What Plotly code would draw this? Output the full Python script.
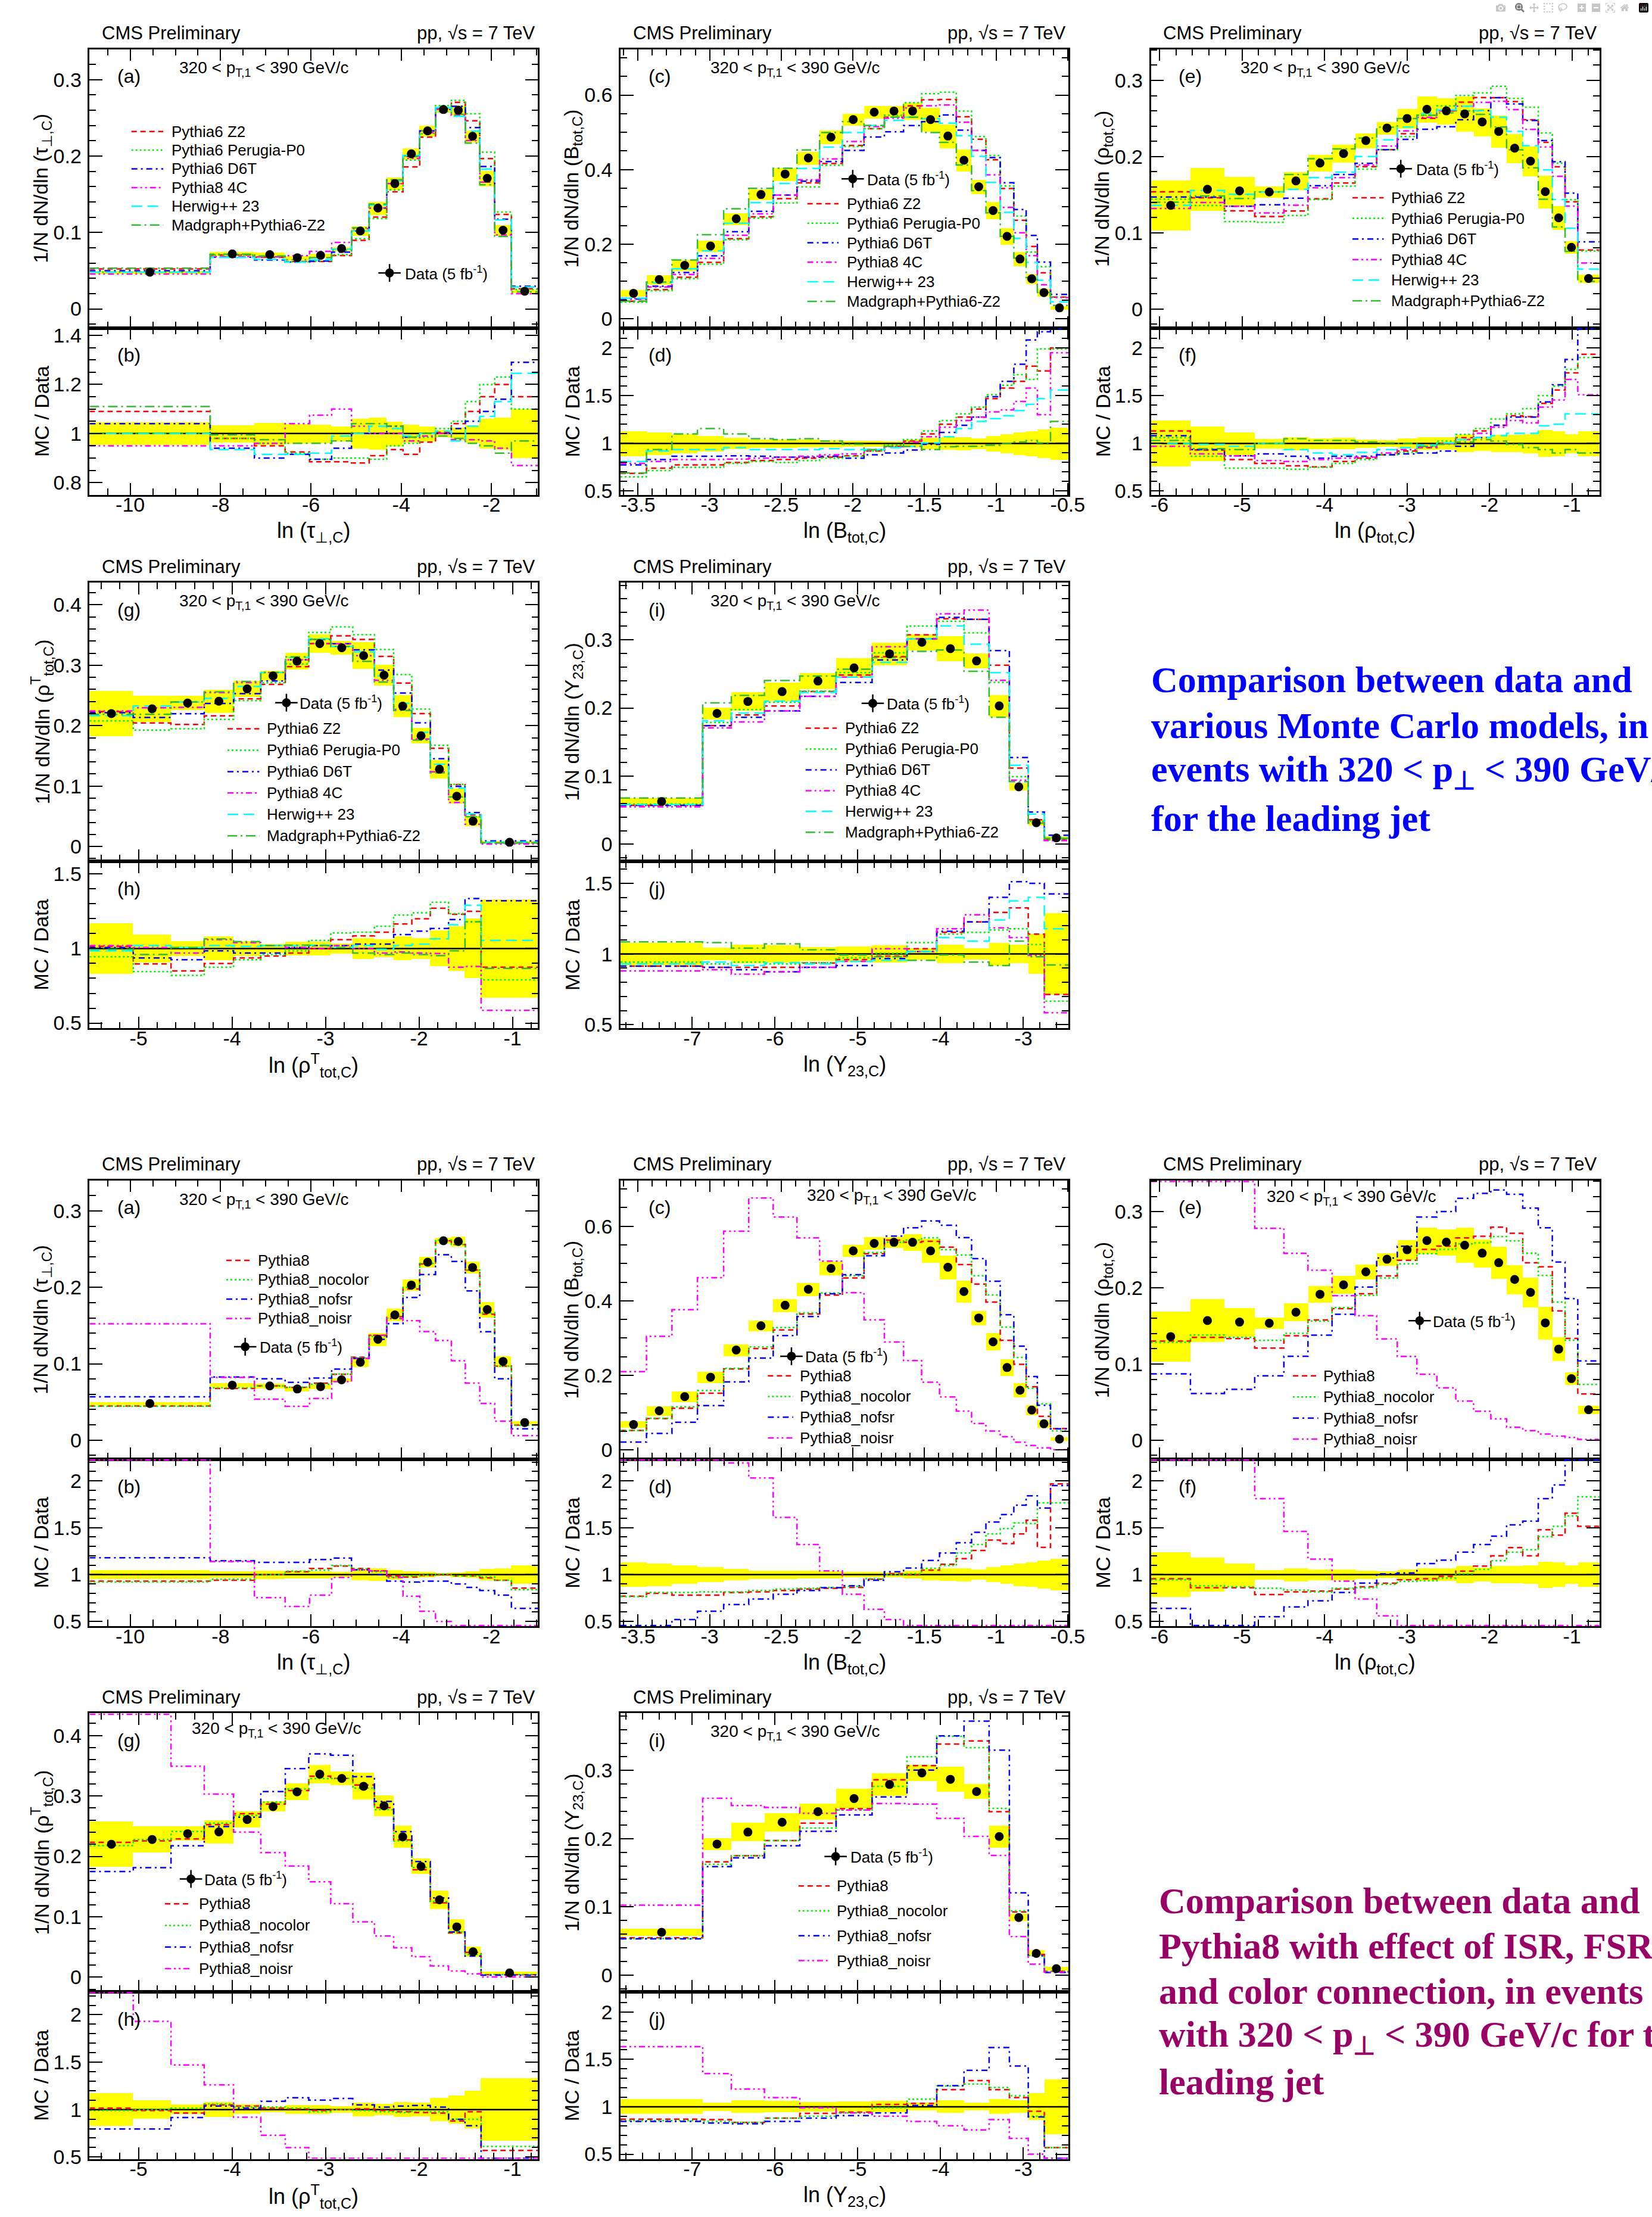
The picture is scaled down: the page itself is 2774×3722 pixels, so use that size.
import plotly.graph_objects as go

W, H = 2774, 3722
FONT = "Liberation Sans, Arial, Helvetica, sans-serif"
SERIF = "Liberation Serif, Times New Roman, serif"
YEL = "#ffff00"

# ---------------- data: tau_perp,C  (a/b) ----------------
A_edges = [-10.9, -8.23, -7.25, -6.57, -6.03, -5.54, -5.10, -4.71, -4.32, -3.96, -3.59, -3.24, -2.89, -2.58, -2.26, -1.93, -1.56, -0.97]
A_data = [0.048, 0.072, 0.071, 0.067, 0.070, 0.079, 0.102, 0.132, 0.164, 0.203, 0.233, 0.261, 0.260, 0.226, 0.171, 0.103, 0.023]
A_err = [0.046, 0.035, 0.045, 0.04, 0.038, 0.03, 0.06, 0.065, 0.05, 0.037, 0.03, 0.015, 0.025, 0.035, 0.06, 0.065, 0.10]
A_z2 = [1.09, 0.98, 0.95, 0.925, 0.885, 0.885, 0.88, 0.91, 0.935, 0.915, 0.965, 1.005, 1.04, 1.09, 1.15, 1.20, 1.15]
A_p0 = [1.0, 0.98, 0.96, 0.92, 0.895, 0.9, 0.9, 0.895, 0.95, 0.96, 0.985, 1.02, 1.05, 1.13, 1.2, 1.23, 1.10]
A_d6t = [1.04, 0.94, 0.90, 0.915, 0.895, 0.94, 1.0, 1.0, 1.03, 0.985, 1.0, 1.0, 1.02, 1.05, 1.09, 1.14, 1.29]
A_4c = [0.95, 0.95, 0.96, 1.04, 1.075, 1.10, 1.03, 1.0, 1.0, 0.97, 0.99, 1.0, 0.975, 0.975, 0.97, 0.94, 0.87]
A_hw = [1.0, 0.935, 0.915, 0.915, 0.92, 0.99, 1.0, 1.03, 1.02, 0.99, 1.0, 1.01, 0.97, 1.03, 1.07, 1.13, 1.245]
A_mg = [1.11, 0.995, 0.975, 0.96, 0.96, 0.97, 1.04, 1.04, 1.03, 0.985, 1.0, 0.99, 0.98, 0.96, 0.95, 0.92, 0.97]
LA_p8 = [0.93, 0.94, 1.0, 1.03, 1.065, 1.09, 1.065, 1.04, 0.985, 0.975, 0.99, 1.0, 0.985, 0.985, 0.965, 0.94, 0.855]
LA_nocol = [0.92, 0.95, 1.0, 1.037, 1.048, 1.096, 1.06, 1.03, 0.974, 0.985, 0.993, 1.004, 0.985, 0.985, 0.974, 0.94, 0.84]
LA_nofsr = [1.18, 1.147, 1.13, 1.13, 1.16, 1.176, 1.05, 1.0, 0.93, 0.92, 0.93, 0.93, 0.9, 0.864, 0.83, 0.78, 0.64]
LA_noisr = [3.17, 1.14, 0.754, 0.66, 0.78, 0.97, 1.05, 1.04, 0.97, 0.77, 0.61, 0.50, 0.40, 0.33, 0.28, 0.24, 0.25]
A_xt = [-10, -8, -6, -4, -2]
A_xtt = ["-10", "-8", "-6", "-4", "-2"]

# ---------------- data: B_tot,C  (c/d) ----------------
C_edges = [-3.622, -3.441, -3.263, -3.085, -2.902, -2.727, -2.556, -2.390, -2.232, -2.073, -1.922, -1.780, -1.646, -1.520, -1.395, -1.278, -1.171, -1.071, -0.971, -0.876, -0.790, -0.712, -0.620, -0.495]
C_data = [0.068, 0.105, 0.143, 0.195, 0.268, 0.333, 0.388, 0.431, 0.487, 0.534, 0.554, 0.557, 0.557, 0.534, 0.490, 0.425, 0.354, 0.290, 0.221, 0.160, 0.107, 0.070, 0.029]
C_err = [0.13, 0.12, 0.10, 0.08, 0.06, 0.045, 0.045, 0.04, 0.038, 0.03, 0.03, 0.025, 0.04, 0.06, 0.065, 0.07, 0.055, 0.08, 0.1, 0.12, 0.13, 0.15, 0.17]
C_z2 = [0.686, 0.74, 0.775, 0.775, 0.80, 0.82, 0.83, 0.845, 0.855, 0.87, 0.92, 0.97, 1.025, 1.10, 1.20, 1.275, 1.36, 1.47, 1.58, 1.65, 1.81, 1.76, 2.0]
C_p0 = [0.65, 0.715, 0.75, 0.75, 0.79, 0.81, 0.80, 0.82, 0.845, 0.865, 0.92, 0.98, 1.04, 1.13, 1.24, 1.31, 1.38, 1.51, 1.61, 1.72, 1.67, 1.99, 1.99]
C_d6t = [0.775, 0.83, 0.865, 0.865, 0.87, 0.865, 0.855, 0.855, 0.865, 0.845, 0.88, 0.90, 0.93, 0.99, 1.115, 1.19, 1.275, 1.49, 1.65, 1.83, 2.085, 2.17, 2.25]
C_4c = [0.79, 0.81, 0.83, 0.83, 0.835, 0.845, 0.855, 0.865, 0.88, 0.89, 0.93, 0.965, 1.015, 1.07, 1.17, 1.24, 1.275, 1.33, 1.35, 1.44, 1.58, 1.30, 1.95]
C_hw = [0.81, 0.92, 0.935, 0.935, 0.955, 0.935, 0.935, 0.935, 0.945, 0.935, 0.935, 0.955, 0.97, 1.005, 1.07, 1.155, 1.23, 1.26, 1.29, 1.345, 1.41, 1.47, 1.56]
C_mg = [0.69, 0.935, 1.10, 1.155, 1.10, 1.05, 1.04, 1.05, 1.025, 0.99, 0.935, 0.97, 0.97, 0.935, 0.965, 0.97, 0.97, 0.98, 1.0, 1.015, 1.03, 1.005, 1.23]
LC_p8 = [0.77, 0.80, 0.78, 0.78, 0.81, 0.816, 0.83, 0.846, 0.853, 0.864, 0.95, 1.01, 1.0, 1.048, 1.11, 1.17, 1.257, 1.368, 1.33, 1.434, 1.58, 1.29, 1.967]
LC_nocol = [0.765, 0.81, 0.81, 0.816, 0.816, 0.83, 0.846, 0.853, 0.864, 0.875, 0.956, 1.0, 1.01, 1.066, 1.096, 1.23, 1.32, 1.434, 1.49, 1.55, 1.544, 1.765, 1.765]
LC_nofsr = [0.31, 0.42, 0.52, 0.61, 0.68, 0.74, 0.79, 0.83, 0.86, 0.88, 0.94, 1.03, 1.07, 1.15, 1.23, 1.34, 1.45, 1.56, 1.64, 1.74, 1.84, 1.71, 1.95]
LC_noisr = [3.09, 2.9, 2.63, 2.37, 2.19, 2.03, 1.61, 1.32, 1.04, 0.79, 0.63, 0.52, 0.43, 0.34, 0.29, 0.245, 0.2, 0.175, 0.16, 0.13, 0.11, 0.08, 0.02]
C_xt = [-3.5, -3, -2.5, -2, -1.5, -1, -0.5]
C_xtt = ["-3.5", "-3", "-2.5", "-2", "-1.5", "-1", "-0.5"]

# ---------------- data: rho_tot,C  (e/f) ----------------
E_edges = [-6.104, -5.625, -5.2125, -4.846, -4.492, -4.20, -3.908, -3.629, -3.367, -3.117, -2.879, -2.6375, -2.408, -2.192, -1.983, -1.792, -1.596, -1.408, -1.2375, -1.083, -0.929, -0.667]
E_data = [0.136, 0.157, 0.155, 0.1536, 0.168, 0.1915, 0.204, 0.221, 0.2375, 0.25, 0.262, 0.26, 0.256, 0.2455, 0.233, 0.211, 0.194, 0.154, 0.1196, 0.0808, 0.040]
E_err = [0.24, 0.18, 0.12, 0.05, 0.07, 0.057, 0.058, 0.045, 0.035, 0.052, 0.066, 0.066, 0.09, 0.075, 0.09, 0.09, 0.10, 0.14, 0.13, 0.10, 0.13]
E_z2 = [1.13, 0.93, 0.83, 0.79, 0.765, 0.755, 0.81, 0.845, 0.88, 0.92, 0.955, 1.0, 1.06, 1.13, 1.19, 1.29, 1.28, 1.42, 1.56, 1.74, 1.935]
E_p0 = [1.06, 0.865, 0.74, 0.74, 0.73, 0.75, 0.79, 0.83, 0.88, 0.905, 0.97, 1.025, 1.095, 1.155, 1.255, 1.31, 1.365, 1.50, 1.60, 1.775, 1.90]
E_d6t = [1.08, 0.935, 0.87, 0.89, 0.865, 0.845, 0.865, 0.865, 0.88, 0.89, 0.90, 0.92, 0.97, 1.06, 1.19, 1.275, 1.275, 1.435, 1.615, 1.88, 2.2]
E_4c = [0.97, 0.89, 0.87, 0.82, 0.81, 0.83, 0.845, 0.855, 0.90, 0.935, 0.96, 1.0, 1.04, 1.105, 1.17, 1.24, 1.215, 1.38, 1.455, 1.67, 1.51]
E_hw = [1.0, 0.99, 0.97, 1.0, 0.935, 0.90, 0.88, 0.905, 0.935, 0.955, 0.98, 1.005, 1.04, 1.06, 1.08, 1.105, 1.105, 1.185, 1.20, 1.31, 1.31]
E_mg = [1.03, 0.945, 0.935, 1.0, 1.05, 1.03, 1.03, 1.015, 1.005, 1.0, 0.97, 0.99, 1.015, 1.04, 1.025, 0.99, 0.955, 0.935, 0.90, 0.935, 0.90]
LE_p8 = [0.956, 0.86, 0.86, 0.787, 0.816, 0.824, 0.846, 0.87, 0.908, 0.945, 0.956, 0.98, 1.037, 1.09, 1.2, 1.287, 1.2, 1.478, 1.42, 1.654, 1.515]
LE_nocol = [0.945, 0.88, 0.87, 0.853, 0.835, 0.816, 0.853, 0.86, 0.897, 0.926, 0.934, 0.963, 1.007, 1.055, 1.147, 1.24, 1.265, 1.404, 1.515, 1.625, 1.83]
LE_nofsr = [0.64, 0.39, 0.43, 0.55, 0.655, 0.72, 0.81, 0.91, 1.007, 1.018, 1.118, 1.154, 1.24, 1.32, 1.41, 1.53, 1.57, 1.81, 1.956, 2.3, 2.6]
LE_noisr = [3.3, 2.7, 2.4, 1.81, 1.46, 1.165, 0.93, 0.74, 0.56, 0.44, 0.33, 0.264, 0.2, 0.155, 0.12, 0.08, 0.065, 0.053, 0.045, 0.044, 0.025]
E_xt = [-6, -5, -4, -3, -2, -1]
E_xtt = ["-6", "-5", "-4", "-3", "-2", "-1"]

# ---------------- data: rho^T_tot,C  (g/h) ----------------
G_edges = [-5.523, -5.056, -4.652, -4.297, -3.983, -3.692, -3.430, -3.179, -2.944, -2.708, -2.477, -2.271, -2.077, -1.879, -1.684, -1.508, -1.336, -0.727]
G_data = [0.220, 0.228, 0.2376, 0.2405, 0.261, 0.2824, 0.3068, 0.336, 0.329, 0.316, 0.2836, 0.2323, 0.1834, 0.128, 0.0833, 0.042, 0.007]
G_err = [0.17, 0.095, 0.05, 0.08, 0.05, 0.03, 0.045, 0.045, 0.035, 0.07, 0.06, 0.08, 0.07, 0.12, 0.15, 0.2, 0.33]
G_z2 = [1.015, 0.897, 0.85, 0.90, 0.937, 0.95, 0.97, 1.0, 1.06, 1.085, 1.11, 1.165, 1.20, 1.27, 1.23, 1.25, 0.875]
G_p0 = [0.945, 0.845, 0.82, 0.875, 0.925, 0.96, 0.985, 1.055, 1.105, 1.11, 1.15, 1.225, 1.24, 1.31, 1.235, 1.18, 0.79]
G_d6t = [1.007, 0.937, 0.925, 0.985, 0.97, 0.97, 1.007, 1.02, 1.02, 1.03, 1.03, 1.094, 1.117, 1.135, 1.195, 1.335, 1.32]
G_4c = [1.02, 1.007, 0.97, 1.06, 1.04, 1.02, 1.007, 1.0, 1.02, 1.0, 0.97, 0.977, 0.97, 0.967, 0.875, 0.88, 0.585]
G_hw = [0.985, 1.02, 1.007, 1.02, 1.015, 1.02, 1.02, 1.023, 1.007, 1.02, 0.995, 1.02, 1.03, 1.065, 1.16, 1.29, 1.055]
G_mg = [0.995, 0.96, 1.007, 1.065, 1.047, 1.02, 1.023, 1.02, 1.007, 0.97, 0.96, 0.97, 0.96, 0.953, 0.985, 1.18, 0.867]
LG_p8 = [1.015, 0.99, 0.963, 1.05, 1.037, 1.015, 1.007, 0.99, 1.0, 1.007, 0.99, 0.978, 0.97, 0.963, 0.88, 0.978, 0.57]
LG_nocol = [0.99, 1.0, 1.015, 1.06, 1.026, 1.026, 1.015, 0.978, 1.0, 0.99, 0.978, 0.97, 0.99, 0.978, 0.897, 0.897, 0.612]
LG_nofsr = [0.795, 0.795, 0.916, 1.037, 1.015, 1.088, 1.125, 1.1, 1.117, 1.05, 1.026, 1.037, 1.044, 1.026, 0.897, 0.83, 0.487]
LG_noisr = [2.6, 1.93, 1.47, 1.26, 0.92, 0.73, 0.6, 0.47, 0.37, 0.29, 0.24, 0.21, 0.185, 0.146, 0.122, 0.135, 0.05]
G_xt = [-5, -4, -3, -2, -1]
G_xtt = ["-5", "-4", "-3", "-2", "-1"]

# ---------------- data: Y23,C  (i/j) ----------------
I_edges = [-7.865, -6.873, -6.527, -6.127, -5.700, -5.262, -4.827, -4.405, -4.046, -3.717, -3.414, -3.169, -2.941, -2.747, -2.456]
I_data = [0.0626, 0.192, 0.2095, 0.224, 0.2395, 0.2587, 0.2794, 0.2964, 0.287, 0.269, 0.203, 0.0843, 0.0316, 0.0093]
I_err = [0.08, 0.045, 0.065, 0.06, 0.05, 0.055, 0.06, 0.04, 0.065, 0.04, 0.08, 0.065, 0.14, 0.29]
I_z2 = [0.914, 0.906, 0.906, 0.906, 0.936, 0.96, 0.985, 1.037, 1.153, 1.227, 1.294, 1.326, 1.14, 0.714]
I_p0 = [0.943, 0.93, 0.943, 0.93, 0.938, 0.973, 1.005, 1.08, 1.14, 1.153, 1.17, 1.178, 1.067, 0.667]
I_d6t = [0.914, 0.906, 0.889, 0.874, 0.906, 0.918, 0.968, 1.017, 1.16, 1.227, 1.40, 1.511, 1.499, 1.425]
I_4c = [0.88, 0.889, 0.857, 0.874, 0.906, 0.948, 1.037, 1.017, 1.178, 1.277, 1.185, 1.116, 0.99, 0.585]
I_hw = [0.93, 0.943, 0.918, 0.938, 0.93, 0.948, 0.955, 1.017, 1.116, 1.091, 1.24, 1.375, 1.40, 1.178]
I_mg = [1.086, 1.08, 1.042, 1.072, 1.03, 0.993, 0.98, 0.955, 0.993, 0.943, 0.918, 1.091, 0.98, 0.923]
LI_p8 = [0.87, 0.864, 0.835, 0.88, 0.93, 0.943, 1.025, 1.036, 1.18, 1.276, 1.18, 1.097, 0.953, 0.57]
LI_nocol = [0.853, 0.846, 0.835, 0.88, 0.9, 0.935, 0.99, 1.08, 1.22, 1.24, 1.204, 1.115, 0.9, 0.57]
LI_nofsr = [0.846, 0.828, 0.82, 0.846, 0.88, 0.907, 0.935, 1.014, 1.222, 1.384, 1.624, 1.43, 0.892, 0.4]
LI_noisr = [1.634, 1.35, 1.186, 1.097, 0.99, 0.935, 0.9, 0.846, 0.8, 0.756, 0.864, 0.667, 0.5, 0.43]
I_xt = [-7, -6, -5, -4, -3]
I_xtt = ["-7", "-6", "-5", "-4", "-3"]

UP_NAMES = ["Pythia6 Z2", "Pythia6 Perugia-P0", "Pythia6 D6T", "Pythia8 4C", "Herwig++ 23", "Madgraph+Pythia6-Z2"]
LO_NAMES = ["Pythia8", "Pythia8_nocolor", "Pythia8_nofsr", "Pythia8_noisr"]
DATA_LABEL = "Data (5 fb<sup>-1</sup>)"
CMS_LABEL = "CMS Preliminary"
ENERGY_LABEL = "pp, \u221as = 7 TeV"
PT_LABEL = "320 < p<sub>T,1</sub> < 390 GeV/c"
UP_TEXT = ["Comparison between data and", "various Monte Carlo models, in",
           "events with 320 < p<sub>\u22a5</sub> < 390 GeV/c", "for the leading jet"]
LO_TEXT = ["Comparison between data and", "Pythia8 with effect of ISR, FSR",
           "and color connection, in events", "with 320 < p<sub>\u22a5</sub> < 390 GeV/c for the",
           "leading jet"]

# ---------------- styles ----------------
UP_STY = [("#ff0000", "9px,6px"), ("#00ee00", "3px,4px"), ("#0000ff", "10px,6px,3px,6px"),
          ("#ff00ff", "10px,5px,3px,5px,3px,5px"), ("#00ffff", "18px,9px"), ("#33bb33", "16px,6px,3px,6px")]
LO_STY = UP_STY[:4]

COL_L = [151, 1052, 1952]
COL_R = [912, 1812, 2713]
ROW_T = [76, 977, 1987, 2887]
TOP_H = 471
RAT_H = 282

XT = {"a": (A_xt, A_xtt, 0.5), "c": (C_xt, C_xtt, 0.1), "e": (E_xt, E_xtt, 0.2),
      "g": (G_xt, G_xtt, 0.2), "i": (I_xt, I_xtt, 0.2)}
VAR = {
    "a": dict(edges=A_edges, data=A_data, err=A_err, yr=[-0.025, 0.34], ydt=0.1, ymn=0.02,
              xt="ln (\u03c4<sub>\u22a5,C</sub>)", yt="1/N dN/dln (\u03c4<sub>\u22a5,C</sub>)"),
    "c": dict(edges=C_edges, data=C_data, err=C_err, yr=[-0.025, 0.723], ydt=0.2, ymn=0.05,
              xt="ln (B<sub>tot,C</sub>)", yt="1/N dN/dln (B<sub>tot,C</sub>)"),
    "e": dict(edges=E_edges, data=E_data, err=E_err, yr=[-0.025, 0.341], ydt=0.1, ymn=0.02,
              xt="ln (\u03c1<sub>tot,C</sub>)", yt="1/N dN/dln (\u03c1<sub>tot,C</sub>)"),
    "g": dict(edges=G_edges, data=G_data, err=G_err, yr=[-0.0245, 0.437], ydt=0.1, ymn=0.02,
              xt="ln (\u03c1<sup>T</sup><sub>tot,C</sub>)", yt="1/N dN/dln (\u03c1<sup>T</sup><sub>tot,C</sub>)"),
    "i": dict(edges=I_edges, data=I_data, err=I_err, yr=[-0.025, 0.384], ydt=0.1, ymn=0.02,
              xt="ln (Y<sub>23,C</sub>)", yt="1/N dN/dln (Y<sub>23,C</sub>)"),
}
NEXT = {"a": "(b)", "c": "(d)", "e": "(f)", "g": "(h)", "i": "(j)"}

PANELS = [
    # upper half
    dict(v="a", row=0, col=0, mc=[A_z2, A_p0, A_d6t, A_4c, A_hw, A_mg], names=UP_NAMES, sty=UP_STY,
         rr=[0.75, 1.43], rdt=0.2, rt0=0.8, rmn=0.05,
         leg=(71, 125, 137, 139, 31.6), dat=(509, 378, 533), pt=(150, 39)),
    dict(v="c", row=0, col=1, mc=[C_z2, C_p0, C_d6t, C_4c, C_hw, C_mg], names=UP_NAMES, sty=UP_STY,
         rr=[0.46, 2.21], rdt=0.5, rt0=0.5, rmn=0.1,
         leg=(317, 370, 382, 261, 33.0), dat=(394, 219, 416), pt=(151, 39)),
    dict(v="e", row=0, col=2, mc=[E_z2, E_p0, E_d6t, E_4c, E_hw, E_mg], names=UP_NAMES, sty=UP_STY,
         rr=[0.46, 2.21], rdt=0.5, rt0=0.5, rmn=0.1,
         leg=(342, 395, 406, 251, 34.8), dat=(424, 202, 448), pt=(150, 39)),
    dict(v="g", row=1, col=0, mc=[G_z2, G_p0, G_d6t, G_4c, G_hw, G_mg], names=UP_NAMES, sty=UP_STY,
         rr=[0.465, 1.585], rdt=0.5, rt0=0.5, rmn=0.1,
         leg=(234, 288, 299, 247, 36.2), dat=(334, 203, 354), pt=(150, 39)),
    dict(v="i", row=1, col=1, mc=[I_z2, I_p0, I_d6t, I_4c, I_hw, I_mg], names=UP_NAMES, sty=UP_STY,
         rr=[0.475, 1.655], rdt=0.5, rt0=0.5, rmn=0.1,
         leg=(314, 367, 379, 246, 35.2), dat=(428, 204, 450), pt=(151, 39)),
    # lower half
    dict(v="a", row=2, col=0, mc=[LA_p8, LA_nocol, LA_nofsr, LA_noisr], names=LO_NAMES, sty=LO_STY,
         rr=[0.45, 2.23], rdt=0.5, rt0=0.5, rmn=0.1,
         leg=(232, 276, 284, 135, 32.7), dat=(264, 281, 287), pt=(150, 40)),
    dict(v="c", row=2, col=1, mc=[LC_p8, LC_nocol, LC_nofsr, LC_noisr], names=LO_NAMES, sty=LO_STY,
         rr=[0.45, 2.23], rdt=0.5, rt0=0.5, rmn=0.1,
         leg=(250, 293, 302, 330, 35.0), dat=(290, 297, 311), pt=(314, 33)),
    dict(v="e", row=2, col=2, mc=[LE_p8, LE_nocol, LE_nofsr, LE_noisr], names=LO_NAMES, sty=LO_STY,
         rr=[0.45, 2.23], rdt=0.5, rt0=0.5, rmn=0.1,
         leg=(241, 284, 290, 330, 35.7), dat=(456, 237, 476), pt=(194, 35)),
    dict(v="g", row=3, col=0, mc=[LG_p8, LG_nocol, LG_nofsr, LG_noisr], names=LO_NAMES, sty=LO_STY,
         rr=[0.48, 2.24], rdt=0.5, rt0=0.5, rmn=0.1,
         leg=(128, 172, 184, 322, 36.5), dat=(172, 280, 193), pt=(171, 34)),
    dict(v="i", row=3, col=1, mc=[LI_p8, LI_nocol, LI_nofsr, LI_noisr], names=LO_NAMES, sty=LO_STY,
         rr=[0.45, 2.21], rdt=0.5, rt0=0.5, rmn=0.1,
         leg=(302, 355, 365, 292, 42.0), dat=(365, 242, 388), pt=(151, 39)),
]


def clip(v, lo, hi):
    m = 0.004 * (hi - lo)
    return max(lo + m, min(hi - m, v))


def X(px):
    return px / W


def Y(py):
    return 1 - py / H


def ann(x, y, text, size, xa="left", ya="middle", color="black", family=FONT, angle=0):
    return dict(x=X(x), y=Y(y), xref="paper", yref="paper", text=text, showarrow=False,
                xanchor=xa, yanchor=ya, textangle=angle,
                font=dict(family=family, size=size, color=color))


AX = dict(showline=True, linecolor="black", linewidth=2.5, mirror="allticks", ticks="inside",
          tickcolor="black", tickwidth=2, showgrid=False, zeroline=False, layer="above traces",
          tickfont=dict(family=FONT, size=34, color="black"))

fig = go.Figure()
layout = dict(width=W, height=H, margin=dict(l=0, r=0, t=0, b=0), paper_bgcolor="white",
              plot_bgcolor="white", showlegend=False, font=dict(family=FONT, color="black"),
              bargap=0, shapes=[], annotations=[])
k = 0

for p in PANELS:
    v = VAR[p["v"]]
    xt, xtt, xmn = XT[p["v"]]
    edges, data, err = v["edges"], v["data"], v["err"]
    n = len(data)
    cen = [(edges[i] + edges[i + 1]) / 2 for i in range(n)]
    wid = [edges[i + 1] - edges[i] for i in range(n)]
    L, R = COL_L[p["col"]], COL_R[p["col"]]
    T = ROW_T[p["row"]]
    D = T + TOP_H
    B = D + RAT_H
    xr = [edges[0], edges[-1]]

    # ---- top pad ----
    k += 1
    xn, yn = ("x", "y") if k == 1 else (f"x{k}", f"y{k}")
    layout["xaxis" if k == 1 else f"xaxis{k}"] = dict(
        AX, domain=[X(L), X(R)], anchor=yn, range=xr, tickmode="array", tickvals=xt, ticktext=xtt,
        showticklabels=False, ticklen=20,
        minor=dict(ticks="inside", dtick=xmn, tick0=0, ticklen=11, tickwidth=2, tickcolor="black"))
    layout["yaxis" if k == 1 else f"yaxis{k}"] = dict(
        AX, domain=[Y(D), Y(T)], anchor=xn, range=v["yr"], tick0=0, dtick=v["ydt"], ticklen=22,
        ticklabelstandoff=4,
        minor=dict(ticks="inside", dtick=v["ymn"], tick0=0, ticklen=11, tickwidth=2, tickcolor="black"))
    fig.add_trace(go.Bar(x=cen, y=[2 * e * d for d, e in zip(data, err)],
                         base=[d * (1 - e) for d, e in zip(data, err)], width=wid,
                         marker=dict(color=YEL, line=dict(width=0)), xaxis=xn, yaxis=yn, hoverinfo="skip"))
    for arr, (col, dash), nm in zip(p["mc"], p["sty"], p["names"]):
        yv = [clip(d * r, *v["yr"]) for d, r in zip(data, arr)]
        fig.add_trace(go.Scatter(x=edges, y=yv + [yv[-1]], mode="lines", name=nm,
                                 line=dict(shape="hv", color=col, width=2.5, dash=dash),
                                 xaxis=xn, yaxis=yn, hoverinfo="skip"))
    fig.add_trace(go.Scatter(x=cen, y=data, mode="markers", name="Data",
                             marker=dict(symbol="circle", size=15, color="black"),
                             xaxis=xn, yaxis=yn, hoverinfo="skip"))

    # ---- ratio pad ----
    k += 1
    xn, yn = f"x{k}", f"y{k}"
    rr = p["rr"]
    layout[f"xaxis{k}"] = dict(
        AX, domain=[X(L), X(R)], anchor=yn, range=xr, tickmode="array", tickvals=xt, ticktext=xtt,
        showticklabels=True, ticklen=20, ticklabelstandoff=-15,
        minor=dict(ticks="inside", dtick=xmn, tick0=0, ticklen=11, tickwidth=2, tickcolor="black"))
    layout[f"yaxis{k}"] = dict(
        AX, domain=[Y(B), Y(D)], anchor=xn, range=rr, tick0=p["rt0"], dtick=p["rdt"], ticklen=22,
        ticklabelstandoff=4,
        minor=dict(ticks="inside", dtick=p["rmn"], tick0=0, ticklen=11, tickwidth=2, tickcolor="black"))
    fig.add_trace(go.Bar(x=cen, y=[2 * e for e in err], base=[1 - e for e in err], width=wid,
                         marker=dict(color=YEL, line=dict(width=0)), xaxis=xn, yaxis=yn, hoverinfo="skip"))
    fig.add_trace(go.Scatter(x=xr, y=[1, 1], mode="lines", line=dict(color="black", width=2.5),
                             xaxis=xn, yaxis=yn, hoverinfo="skip"))
    for arr, (col, dash), nm in zip(p["mc"], p["sty"], p["names"]):
        yv = [clip(r, *rr) for r in arr]
        fig.add_trace(go.Scatter(x=edges, y=yv + [yv[-1]], mode="lines", name=nm,
                                 line=dict(shape="hv", color=col, width=2.5, dash=dash),
                                 xaxis=xn, yaxis=yn, hoverinfo="skip"))

    # ---- texts ----
    A = layout["annotations"]
    S = layout["shapes"]
    A.append(ann(L + 19, T - 27, CMS_LABEL, 31))
    A.append(ann(R - 2, T - 27, ENERGY_LABEL, 31, xa="right"))
    A.append(ann(L + 45, T + 46, "(" + p["v"] + ")", 32))
    A.append(ann(L + 45, D + 46, NEXT[p["v"]], 32))
    A.append(ann(L + p["pt"][0], T + p["pt"][1] - 6, PT_LABEL, 28))
    A.append(ann(L - 81, (T + D) / 2, v["yt"], 34, xa="center", angle=-90))
    A.append(ann(L - 82, (D + B) / 2, "MC / Data", 34, xa="center", angle=-90))
    A.append(ann((L + R) / 2, B + 63, v["xt"], 36, xa="center"))

    # ---- legend ----
    lx0, lx1, tx, ly0, dy = p["leg"]
    for j, ((col, dash), nm) in enumerate(zip(p["sty"], p["names"])):
        yy = T + ly0 + j * dy
        S.append(dict(type="line", xref="paper", yref="paper", x0=X(L + lx0), x1=X(L + lx1),
                      y0=Y(yy), y1=Y(yy), line=dict(color=col, width=2.5, dash=dash)))
        A.append(ann(L + tx, yy, nm, 26))
    mx, my, dtx = p["dat"]
    S.append(dict(type="line", xref="paper", yref="paper", x0=X(L + mx - 19), x1=X(L + mx + 19),
                  y0=Y(T + my), y1=Y(T + my), line=dict(color="black", width=2.5)))
    S.append(dict(type="line", xref="paper", yref="paper", x0=X(L + mx), x1=X(L + mx),
                  y0=Y(T + my - 15), y1=Y(T + my + 15), line=dict(color="black", width=2.5)))
    S.append(dict(type="circle", xref="paper", yref="paper", x0=X(L + mx - 7.5), x1=X(L + mx + 7.5),
                  y0=Y(T + my + 7.5), y1=Y(T + my - 7.5), fillcolor="black", line=dict(width=0)))
    A.append(ann(L + dtx, T + my, DATA_LABEL, 26))

# ---- descriptive text blocks ----
for j, line in enumerate(UP_TEXT):
    layout["annotations"].append(ann(1950, 1141 + j * 78, "<b>" + line + "</b>", 62,
                                     color="#0000ff", family=SERIF))
for j, line in enumerate(LO_TEXT):
    layout["annotations"].append(ann(1964, 3204 + j * 76.5, "<b>" + line + "</b>", 62,
                                     color="#990066", family=SERIF))

fig.update_layout(**layout)
fig.write_html("out.html", post_script="document.body.style.margin='0px';")
